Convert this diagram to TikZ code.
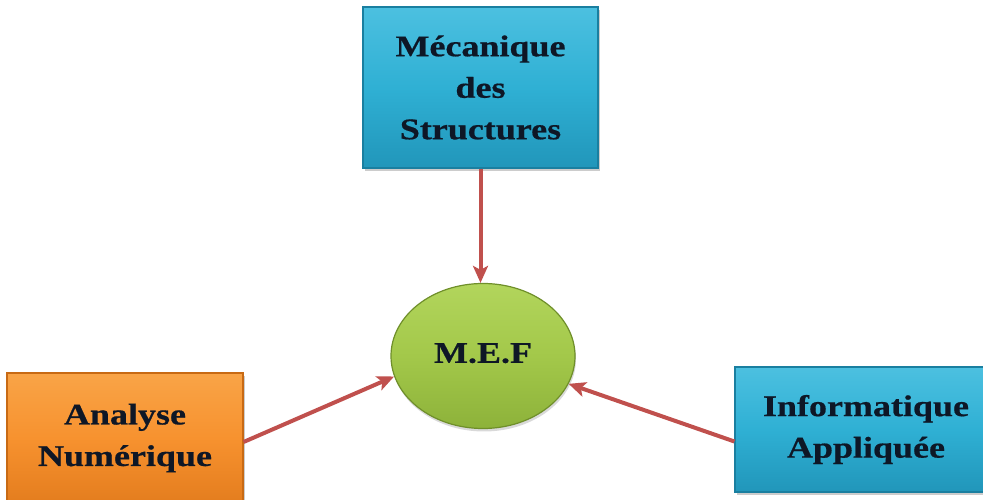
\documentclass[tikz,border=0pt]{standalone}
\usepackage{fontspec}
\setmainfont{Liberation Serif}
\newfontfamily\labelfont[FakeStretch=1.2,FakeBold=0.6]{Liberation Serif}
\usetikzlibrary{arrows.meta,positioning,shapes.geometric,shadows}
\definecolor{Ink}{HTML}{0E1726}
\definecolor{Aqua}{HTML}{2FB0D4}
\definecolor{AquaLight}{HTML}{4CC0E0}
\definecolor{AquaDark}{HTML}{2196BA}
\definecolor{AquaRim}{HTML}{1A7FA0}
\definecolor{Tangerine}{HTML}{F7922F}
\definecolor{TangerineLight}{HTML}{F9A447}
\definecolor{TangerineDark}{HTML}{E47D1E}
\definecolor{TangerineRim}{HTML}{C86A14}
\definecolor{Leaf}{HTML}{A3C84A}
\definecolor{LeafLight}{HTML}{B2D55C}
\definecolor{LeafDark}{HTML}{8DB23A}
\definecolor{LeafRim}{HTML}{6F8F2A}
\definecolor{Brick}{HTML}{C0504D}
\tikzset{
  label text/.style={font=\labelfont\bfseries\fontsize{30}{41.5}\selectfont,text=Ink,align=center},
  aquabox/.style={label text,rectangle,draw=AquaRim,line width=1.2pt,top color=AquaLight,bottom color=AquaDark,middle color=Aqua,drop shadow={opacity=.4,shadow xshift=2pt,shadow yshift=-3pt}},
  orangebox/.style={label text,rectangle,draw=TangerineRim,line width=1.2pt,top color=TangerineLight,bottom color=TangerineDark,middle color=Tangerine,drop shadow={opacity=.4,shadow xshift=2pt,shadow yshift=-3pt}},
  hub/.style={label text,ellipse,draw=LeafRim,line width=1.2pt,top color=LeafLight,bottom color=LeafDark,middle color=Leaf,drop shadow={opacity=.3,shadow xshift=1pt,shadow yshift=-3pt}},
  feed/.style={-{Stealth[length=17pt,width=15pt,inset=4pt]},draw=Brick,line width=4pt}
}
\begin{document}
\begin{tikzpicture}[x=1pt,y=1pt]
  \useasboundingbox (0,0) rectangle (983,500);
  \node[hub,minimum width=184pt,minimum height=145pt] (mef) at (483,144) {\raisebox{6pt}{M.E.F}};
  \node[aquabox,minimum width=235pt,minimum height=161pt] (meca) at (480.5,412.5) {Mécanique\\des\\Structures};
  \node[orangebox,minimum width=236pt,minimum height=130pt] (num) at (125,62) {Analyse\\Numérique};
  \node[aquabox,minimum width=262pt,minimum height=125pt] (info) at (866,70.5) {Informatique\\Appliquée};
  % three disciplines feeding the method
  \draw[feed] (meca.south) -- (meca.south |- mef.north);
  \draw[feed] ([yshift=-4pt]num.east) -- (mef.193);
  \draw[feed] ([yshift=-12pt]info.west) -- (mef.342);
\end{tikzpicture}
\end{document}
